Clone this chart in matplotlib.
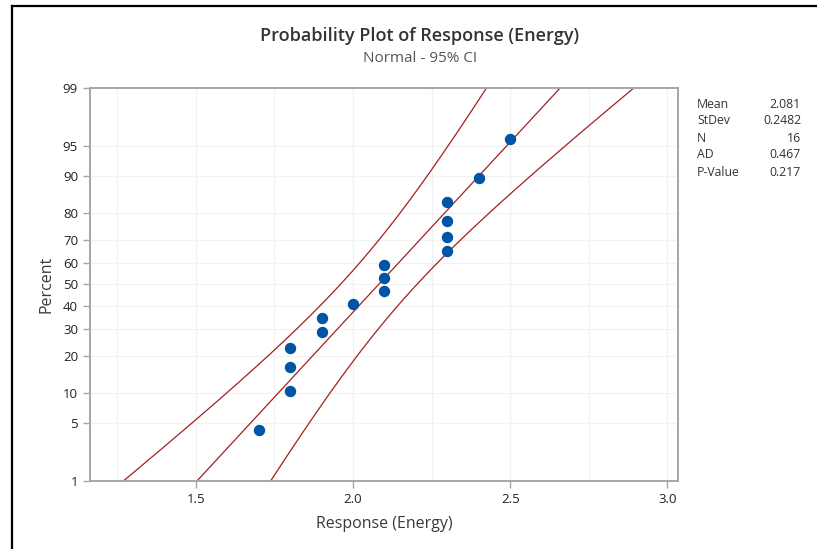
import numpy as np
import matplotlib
matplotlib.use("Agg")
import matplotlib.pyplot as plt
from statistics import NormalDist

plt.rcParams['font.family'] = ['Open Sans', 'DejaVu Sans']

# datos
energy = [1.7, 1.8, 1.8, 1.8, 1.9, 1.9, 2.0, 2.1, 2.1, 2.1, 2.3, 2.3, 2.3, 2.3, 2.4, 2.5]
y_ticks = [1, 5, 10, 20, 30, 40, 50, 60, 70, 80, 90, 95, 99]
x_ticks = [1.5, 2.0, 2.5, 3.0]
stat_names = ["Mean", "StDev", "N", "AD", "P-Value"]
stat_values = ["2.081", "0.2482", "16", "0.467", "0.217"]

nd = NormalDist()
ppf = np.vectorize(lambda p: nd.inv_cdf(min(max(p, 1e-9), 1 - 1e-9)), otypes=[float])
cdf = np.vectorize(nd.cdf, otypes=[float])

def fwd(p):
    return ppf(np.asarray(p, dtype=float) / 100.0)

def inv(z):
    return cdf(np.asarray(z, dtype=float)) * 100.0

x = np.sort(np.array(energy))
n = len(x)
mu = x.mean()
sd = x.std(ddof=1)
# rangos medianos (Benard)
pct = (np.arange(1, n + 1) - 0.3) / (n + 0.4) * 100

z = np.linspace(nd.inv_cdf(0.001), nd.inv_cdf(0.999), 400)
xp = mu + z * sd
se = sd * np.sqrt(1.0 / n + z ** 2 / (2.0 * n))
lo = xp - 1.96 * se
hi = xp + 1.96 * se
p_line = cdf(z) * 100

fig = plt.figure(figsize=(8.17, 5.49), dpi=100)
ax = fig.add_axes([0.110, 0.1239, 0.720, 0.7158])
ax.set_yscale('function', functions=(fwd, inv))

red = "#a3201f"
ax.plot(xp, p_line, color=red, lw=0.9)
ax.plot(lo, p_line, color=red, lw=0.9)
ax.plot(hi, p_line, color=red, lw=0.9)
ax.plot(x, pct, 'o', color="#0054a4", ms=7.2, mec="#0054a4", zorder=5)

ax.set_xlim(1.163, 3.034)
ax.set_ylim(1, 99)
ax.set_yticks(y_ticks)
ax.set_yticklabels([str(t) for t in y_ticks])
ax.set_xticks(x_ticks)
ax.set_xticklabels(["1.5", "2.0", "2.5", "3.0"])
ax.set_xticks(np.arange(1.25, 3.01, 0.25), minor=True)
ax.yaxis.set_minor_locator(matplotlib.ticker.NullLocator())
ax.tick_params(axis='x', which='minor', length=0)
ax.grid(True, which='both', color="#f2f2f2", lw=0.9)
ax.set_axisbelow(True)
for s in ax.spines.values():
    s.set_color("#a6a6a6")
    s.set_linewidth(1.4)
ax.tick_params(which='major', colors="#a6a6a6", labelcolor="#222222", labelsize=9.5, length=5, width=1)
for lab in ax.get_xticklabels() + ax.get_yticklabels():
    lab.set_fontweight('medium')

ax.set_xlabel("Response (Energy)", fontsize=11.5, color="#3a3a3a", labelpad=7, fontweight='medium')
ax.set_ylabel("Percent", fontsize=11.5, color="#3a3a3a", labelpad=6, fontweight='medium')

fig.text(0.514, 0.935, "Probability Plot of Response (Energy)", ha='center', va='center',
         fontsize=13, color="#333333", fontweight='semibold')
fig.text(0.514, 0.894, "Normal - 95% CI", ha='center', va='center', fontsize=11, color="#555555")

for i, (nm, v) in enumerate(zip(stat_names, stat_values)):
    yy = 1 - (104 + 17 * i) / 549
    fig.text(697 / 817, yy, nm, ha='left', va='center', fontsize=8.8, color="#333333")
    fig.text(801 / 817, yy, v, ha='right', va='center', fontsize=8.8, color="#333333")

# marco negro (izquierda y arriba)
fig.add_artist(plt.Line2D([11.5 / 817, 11.5 / 817], [0, 1 - 6 / 549], color='black', lw=1.6))
fig.add_artist(plt.Line2D([11.5 / 817, 1], [1 - 6 / 549, 1 - 6 / 549], color='black', lw=1.6))

fig.savefig("out.png", dpi=100)
